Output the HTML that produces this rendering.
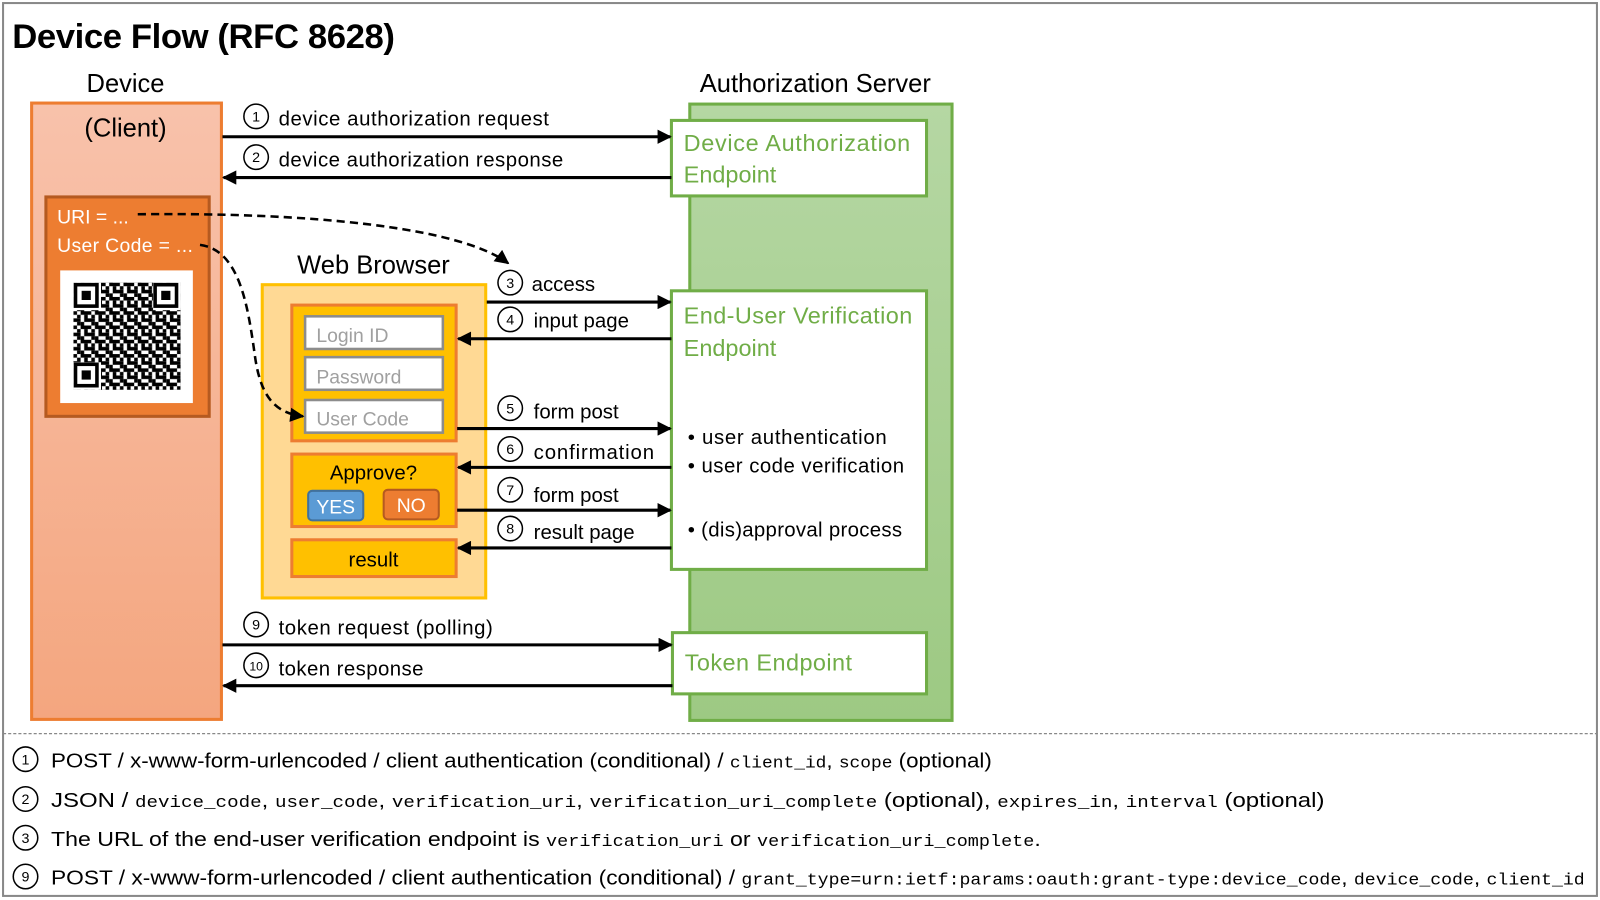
<!DOCTYPE html>
<html><head><meta charset="utf-8"><style>
html,body{margin:0;padding:0;background:#fff;}
svg{display:block;}
text{font-family:"Liberation Sans","DejaVu Sans",sans-serif;}
.m{font-family:"Liberation Mono",monospace;font-size:16px;}
</style></head><body>
<svg width="1600" height="900" viewBox="0 0 1568 882" xmlns="http://www.w3.org/2000/svg">
<defs>
<linearGradient id="og" x1="0" y1="0" x2="0" y2="1"><stop offset="0" stop-color="#f8c2ab"/><stop offset="1" stop-color="#f4a67f"/></linearGradient>
<linearGradient id="gg" x1="0" y1="0" x2="0" y2="1"><stop offset="0" stop-color="#b5d7a3"/><stop offset="1" stop-color="#9dc983"/></linearGradient>
<marker id="ar" viewBox="0 0 10 10" refX="9" refY="5" markerWidth="16" markerHeight="14" markerUnits="userSpaceOnUse" orient="auto"><path d="M0,0 L10,5 L0,10 z" fill="#000"/></marker>
<pattern id="qr" x="72" y="277" width="14" height="14" patternUnits="userSpaceOnUse">
<rect x="0" y="0" width="3.5" height="3.5" fill="#000"/><rect x="7" y="0" width="7" height="3.5" fill="#000"/>
<rect x="3.5" y="3.5" width="3.5" height="3.5" fill="#000"/><rect x="10.5" y="3.5" width="3.5" height="7" fill="#000"/>
<rect x="0" y="7" width="7" height="3.5" fill="#000"/><rect x="3.5" y="10.5" width="3.5" height="3.5" fill="#000"/><rect x="7" y="10.5" width="3.5" height="3.5" fill="#000"/>
</pattern>
</defs>
<rect x="3" y="3" width="1562" height="875" fill="#fff" stroke="#888" stroke-width="2"/>
<text x="12" y="47" font-size="34" font-weight="bold" textLength="375">Device Flow (RFC 8628)</text>

<!-- Device column -->
<text x="123" y="90" font-size="25" text-anchor="middle">Device</text>
<rect x="31" y="101" width="186" height="604" fill="url(#og)" stroke="#ed7d31" stroke-width="3"/>
<text x="123" y="134" font-size="25" text-anchor="middle">(Client)</text>
<rect x="45" y="193" width="160" height="215" fill="#ed7d31" stroke="#b55a20" stroke-width="3"/>
<text x="56" y="219" font-size="19" fill="#fff">URI = ...</text>
<text x="56" y="247" font-size="19" fill="#fff" textLength="133">User Code = ...</text>
<rect x="59" y="265" width="130" height="130" fill="#fff"/>
<rect x="72" y="277" width="105" height="105" fill="url(#qr)"/>
<g fill="#fff"><rect x="72" y="277" width="27" height="27"/><rect x="150" y="277" width="27" height="27"/><rect x="72" y="355" width="27" height="27"/></g>
<g fill="none" stroke="#000" stroke-width="3.5"><rect x="74" y="279" width="21" height="21"/><rect x="152" y="279" width="21" height="21"/><rect x="74" y="357" width="21" height="21"/></g>
<g fill="#000"><rect x="80" y="285" width="9" height="9"/><rect x="158" y="285" width="9" height="9"/><rect x="80" y="363" width="9" height="9"/></g>

<!-- Authorization server -->
<text x="799" y="90" font-size="25" text-anchor="middle">Authorization Server</text>
<rect x="676" y="102" width="257" height="604" fill="url(#gg)" stroke="#70ad47" stroke-width="3"/>
<rect x="658" y="118" width="250" height="74" fill="#fff" stroke="#70ad47" stroke-width="3"/>
<text x="670" y="148" font-size="23" fill="#70ad47" textLength="222">Device Authorization</text>
<text x="670" y="179" font-size="23" fill="#70ad47">Endpoint</text>
<rect x="658" y="285" width="250" height="273" fill="#fff" stroke="#70ad47" stroke-width="3"/>
<text x="670" y="317" font-size="23" fill="#70ad47" textLength="224">End-User Verification</text>
<text x="670" y="349" font-size="23" fill="#70ad47">Endpoint</text>
<text x="674" y="435" font-size="20" textLength="195">• user authentication</text>
<text x="674" y="463" font-size="20" textLength="212">• user code verification</text>
<text x="674" y="526" font-size="20" textLength="210">• (dis)approval process</text>
<rect x="659" y="620" width="249" height="60" fill="#fff" stroke="#70ad47" stroke-width="3"/>
<text x="671" y="657" font-size="23" fill="#70ad47" textLength="164">Token Endpoint</text>

<!-- Web browser -->
<text x="366" y="268" font-size="25" text-anchor="middle">Web Browser</text>
<rect x="257" y="279" width="219" height="307" fill="#ffd994" stroke="#ffc000" stroke-width="3"/>
<rect x="286" y="299" width="161" height="133" fill="#ffc000" stroke="#ed7d31" stroke-width="3"/>
<g fill="#fff" stroke="#8c8c8c" stroke-width="2.5">
<rect x="299" y="310" width="135" height="32"/><rect x="299" y="350" width="135" height="32"/><rect x="299" y="392" width="135" height="32"/></g>
<g font-size="19" fill="#a0a0a0"><text x="310" y="335">Login ID</text><text x="310" y="376">Password</text><text x="310" y="417">User Code</text></g>
<rect x="286" y="445" width="161" height="71" fill="#ffc000" stroke="#ed7d31" stroke-width="3"/>
<text x="366" y="470" font-size="20" text-anchor="middle">Approve?</text>
<rect x="302" y="481" width="54" height="29" rx="4" fill="#5b9bd5" stroke="#41719c" stroke-width="2"/>
<text x="329" y="503" font-size="19" fill="#fff" text-anchor="middle">YES</text>
<rect x="376" y="480" width="54" height="29" rx="4" fill="#ed7d31" stroke="#b55a20" stroke-width="2"/>
<text x="403" y="502" font-size="19" fill="#fff" text-anchor="middle">NO</text>
<rect x="286" y="529" width="161" height="36" fill="#ffc000" stroke="#ed7d31" stroke-width="3"/>
<text x="366" y="555" font-size="20" text-anchor="middle">result</text>

<!-- arrows -->
<g stroke="#000" stroke-width="3" fill="none">
<line x1="218" y1="134" x2="657" y2="134" marker-end="url(#ar)"/>
<line x1="658" y1="174" x2="219" y2="174" marker-end="url(#ar)"/>
<line x1="477" y1="296" x2="657" y2="296" marker-end="url(#ar)"/>
<line x1="658" y1="332" x2="449" y2="332" marker-end="url(#ar)"/>
<line x1="448" y1="420" x2="657" y2="420" marker-end="url(#ar)"/>
<line x1="658" y1="458" x2="449" y2="458" marker-end="url(#ar)"/>
<line x1="448" y1="500" x2="657" y2="500" marker-end="url(#ar)"/>
<line x1="658" y1="537" x2="449" y2="537" marker-end="url(#ar)"/>
<line x1="218" y1="632" x2="658" y2="632" marker-end="url(#ar)"/>
<line x1="659" y1="672" x2="219" y2="672" marker-end="url(#ar)"/>
<path d="M135,210 C300,208 450,222 498,258" stroke-dasharray="8,5" stroke-width="2.5" marker-end="url(#ar)"/>
<path d="M196,240 C235,245 243,300 250,350 C256,392 272,405 297,408" stroke-dasharray="8,5" stroke-width="2.5" marker-end="url(#ar)"/>
</g>
<g fill="none" stroke="#000" stroke-width="1.5">
<circle cx="251" cy="114" r="12"/><circle cx="251" cy="154" r="12"/>
<circle cx="500" cy="277" r="12"/><circle cx="500" cy="313" r="12"/>
<circle cx="500" cy="400" r="12"/><circle cx="500" cy="440" r="12"/>
<circle cx="500" cy="480" r="12"/><circle cx="500" cy="518" r="12"/>
<circle cx="251" cy="612" r="12"/><circle cx="251" cy="652" r="12"/>
</g>
<g font-size="14" text-anchor="middle">
<text x="251" y="119">1</text><text x="251" y="159">2</text><text x="500" y="282">3</text><text x="500" y="318">4</text>
<text x="500" y="405">5</text><text x="500" y="445">6</text><text x="500" y="485">7</text><text x="500" y="523">8</text>
<text x="251" y="617">9</text><text x="251" y="657" font-size="12">10</text>
</g>
<g font-size="20">
<text x="273" y="123" textLength="265">device authorization request</text>
<text x="273" y="163" textLength="279">device authorization response</text>
<text x="521" y="285">access</text>
<text x="523" y="321">input page</text>
<text x="523" y="410">form post</text>
<text x="523" y="450" textLength="118">confirmation</text>
<text x="523" y="492">form post</text>
<text x="523" y="528">result page</text>
<text x="273" y="622" textLength="210">token request (polling)</text>
<text x="273" y="662" textLength="142">token response</text>
</g>

<!-- footnotes -->
<line x1="3" y1="719" x2="1565" y2="719" stroke="#888" stroke-width="1.2" stroke-dasharray="3,2"/>
<g fill="none" stroke="#000" stroke-width="1.5">
<circle cx="25" cy="744" r="12"/><circle cx="25" cy="783" r="12"/><circle cx="25" cy="821" r="12"/><circle cx="25" cy="859" r="12"/></g>
<g font-size="14" text-anchor="middle"><text x="25" y="749">1</text><text x="25" y="788">2</text><text x="25" y="826">3</text><text x="25" y="864">9</text></g>
<g font-size="20">
<text x="50" y="752" textLength="922" lengthAdjust="spacingAndGlyphs">POST / x-www-form-urlencoded / client authentication (conditional) / <tspan class="m">client_id</tspan>, <tspan class="m">scope</tspan> (optional)</text>
<text x="50" y="791" textLength="1248" lengthAdjust="spacingAndGlyphs">JSON / <tspan class="m">device_code</tspan>, <tspan class="m">user_code</tspan>, <tspan class="m">verification_uri</tspan>, <tspan class="m">verification_uri_complete</tspan> (optional), <tspan class="m">expires_in</tspan>, <tspan class="m">interval</tspan> (optional)</text>
<text x="50" y="829" textLength="970" lengthAdjust="spacingAndGlyphs">The URL of the end-user verification endpoint is <tspan class="m">verification_uri</tspan> or <tspan class="m">verification_uri_complete</tspan>.</text>
<text x="50" y="867" textLength="1503" lengthAdjust="spacingAndGlyphs">POST / x-www-form-urlencoded / client authentication (conditional) / <tspan class="m">grant_type=urn:ietf:params:oauth:grant-type:device_code</tspan>, <tspan class="m">device_code</tspan>, <tspan class="m">client_id</tspan></text>
</g>
</svg>
</body></html>
